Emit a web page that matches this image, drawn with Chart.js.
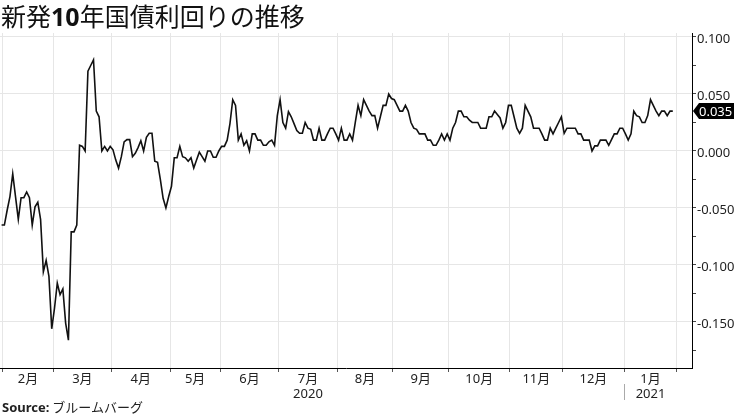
<!DOCTYPE html>
<html>
<head>
<meta charset="utf-8">
<script src="https://cdn.jsdelivr.net/npm/chart.js@4.4.0/dist/chart.umd.min.js"></script>
<style>
html, body { margin: 0; padding: 0; background: #fff; }
#wrap { position: relative; width: 740px; height: 416px; overflow: hidden; }
#chart { position: absolute; left: 0; top: 0; }
#title { position: absolute; left: 1px; top: 0px; font: 25px "Noto Sans CJK JP"; line-height: 30px; color: #111; white-space: nowrap; }
#title b { font-family: "Noto Sans", "Noto Sans CJK JP"; font-weight: 700; }
#source { position: absolute; left: 2px; top: 399px; font: 13px "Noto Sans CJK JP"; line-height: 16px; color: #222; white-space: nowrap; }
#source b { font-family: "Noto Sans"; font-weight: 700; }
</style>
</head>
<body>
<div id="wrap">
  <canvas id="chart" width="740" height="416"></canvas>
  <div id="title">新発<b>10</b>年国債利回りの推移</div>
  <div id="source"><b>Source:</b> ブルームバーグ</div>
</div>
<script>
// *** data for display ***
// trading days per month, starting with 2020/01/31
const leadDays = 1;
const monthLabels = ['2月', '3月', '4月', '5月', '6月', '7月', '8月', '9月', '10月', '11月', '12月', '1月'];
const yearLabels = ['', '', '', '', '', '2020', '', '', '', '', '', '2021'];
const monthDays = [18, 21, 21, 18, 21, 21, 20, 20, 22, 19, 22, 19];

// 10y JGB yield (%), one value per trading day
const yields = [
    -0.065,
    // Feb
    -0.065, -0.052, -0.040, -0.020, -0.040, -0.060, -0.041, -0.041, -0.036, -0.041,
    -0.065, -0.049, -0.045, -0.060, -0.106, -0.096, -0.110, -0.156,
    // Mar
    -0.138, -0.116, -0.126, -0.121, -0.151, -0.166, -0.071, -0.071, -0.065, 0.005,
    0.004, 0.000, 0.070, 0.075, 0.080, 0.035, 0.030, 0.000, 0.004, 0.000, 0.004,
    // Apr
    0.001, -0.008, -0.015, -0.005, 0.008, 0.010, 0.010, -0.005, -0.002, 0.003,
    0.009, 0.000, 0.012, 0.0155, 0.0155, -0.009, -0.010, -0.025, -0.0415, -0.050, -0.040,
    // May
    -0.031, -0.006, -0.006, 0.004, -0.005, -0.006, -0.009, -0.006, -0.015, -0.008,
    -0.001, -0.005, -0.009, 0.000, 0.000, -0.0055, -0.0055, 0.000,
    // Jun
    0.004, 0.004, 0.0095, 0.024, 0.045, 0.040, 0.0095, 0.015, 0.005, 0.009,
    0.000, 0.015, 0.015, 0.0095, 0.0095, 0.005, 0.005, 0.008, 0.0095, 0.005, 0.031,
    // Jul
    0.045, 0.025, 0.020, 0.0345, 0.030, 0.024, 0.018, 0.0155, 0.0155, 0.025,
    0.020, 0.019, 0.0095, 0.0095, 0.020, 0.0095, 0.0095, 0.015, 0.020, 0.020, 0.015,
    // Aug
    0.0095, 0.020, 0.0095, 0.0095, 0.015, 0.0095, 0.025, 0.040, 0.031, 0.045,
    0.040, 0.035, 0.031, 0.031, 0.020, 0.030, 0.040, 0.040, 0.050, 0.046,
    // Sep
    0.045, 0.040, 0.035, 0.035, 0.040, 0.035, 0.025, 0.020, 0.019, 0.015,
    0.015, 0.015, 0.0095, 0.0095, 0.005, 0.005, 0.0095, 0.015, 0.0095, 0.015,
    // Oct
    0.0095, 0.020, 0.025, 0.035, 0.035, 0.030, 0.030, 0.027, 0.025, 0.025,
    0.025, 0.020, 0.020, 0.020, 0.030, 0.030, 0.035, 0.032, 0.029, 0.020, 0.025, 0.040,
    // Nov
    0.040, 0.030, 0.020, 0.0155, 0.020, 0.040, 0.035, 0.030, 0.020, 0.020,
    0.020, 0.015, 0.0095, 0.0095, 0.020, 0.015, 0.020, 0.025, 0.030,
    // Dec
    0.0155, 0.020, 0.020, 0.020, 0.020, 0.015, 0.015, 0.0095, 0.0095, 0.0095,
    0.000, 0.0045, 0.0045, 0.0095, 0.0095, 0.0095, 0.005, 0.010, 0.015, 0.015, 0.020, 0.020,
    // Jan 2021
    0.015, 0.0095, 0.015, 0.035, 0.031, 0.030, 0.025, 0.025, 0.031, 0.045,
    0.040, 0.035, 0.031, 0.035, 0.035, 0.031, 0.035, 0.035
];

// *** x ticks: gridlines at month boundaries, labels mid-month ***
const xTicks = [];
let start = leadDays - 0.5;
xTicks.push({ value: start, label: '', edge: true });
monthLabels.forEach(function (m, i) {
    const end = start + monthDays[i];
    xTicks.push({ value: (start + end) / 2, label: yearLabels[i] ? [m, yearLabels[i]] : m, edge: false });
    xTicks.push({ value: end, label: '', edge: true });
    start = end;
});
const newYearEdge = xTicks[xTicks.length - 3].value;

// *** last value tag + year separator ***
const lastValueTag = {
    id: 'lastValueTag',
    afterDraw(chart) {
        const ctx = chart.ctx, area = chart.chartArea;
        const v = yields[yields.length - 1];
        const y = Math.round(chart.scales.y.getPixelForValue(v));
        const x0 = area.right + 1;
        ctx.save();
        ctx.fillStyle = '#000';
        ctx.beginPath();
        ctx.moveTo(x0, y);
        ctx.lineTo(x0 + 6, y - 8);
        ctx.lineTo(x0 + 41, y - 8);
        ctx.lineTo(x0 + 41, y + 8);
        ctx.lineTo(x0 + 6, y + 8);
        ctx.closePath();
        ctx.fill();
        ctx.fillStyle = '#fff';
        ctx.font = '13px "Noto Sans"';
        ctx.textBaseline = 'middle';
        ctx.fillText(v.toFixed(3), x0 + 6, y + 1);

        const xs = Math.round(chart.scales.x.getPixelForValue(newYearEdge)) + 0.5;
        ctx.strokeStyle = '#aaa';
        ctx.lineWidth = 1;
        ctx.beginPath();
        ctx.moveTo(xs, area.bottom + 16);
        ctx.lineTo(xs, area.bottom + 32);
        ctx.stroke();
        ctx.restore();
    }
};

const FONT = '"Noto Sans", "Noto Sans CJK JP", sans-serif';

new Chart(document.getElementById('chart'), {
    type: 'line',
    data: {
        datasets: [{
            data: yields.map(function (v, i) { return { x: i, y: v }; }),
            borderColor: '#111',
            borderWidth: 1.6,
            pointRadius: 0,
            tension: 0,
            fill: false
        }]
    },
    options: {
        responsive: false,
        devicePixelRatio: 1,
        animation: false,
        layout: { padding: { top: 33, left: 0, right: 0, bottom: 12 } },
        plugins: { legend: { display: false }, tooltip: { enabled: false } },
        scales: {
            x: {
                type: 'linear',
                bounds: 'data',
                min: -0.57,
                max: 247.9,
                afterBuildTicks: function (scale) {
                    scale.ticks = xTicks.map(function (t) { return { value: t.value }; });
                },
                afterFit: function (scale) { scale.height = 36; },
                grid: {
                    color: function (c) { return xTicks[c.index] && xTicks[c.index].edge ? '#e6e6e6' : 'rgba(0,0,0,0)'; },
                    tickColor: function (c) { return xTicks[c.index] && xTicks[c.index].edge ? '#555' : 'rgba(0,0,0,0)'; },
                    tickLength: 4
                },
                border: { display: true, color: '#000', width: 1 },
                ticks: {
                    autoSkip: false,
                    maxRotation: 0,
                    minRotation: 0,
                    padding: 0,
                    color: '#222',
                    font: { family: FONT, size: 13, lineHeight: 1.15 },
                    callback: function (value, index) { return xTicks[index] ? xTicks[index].label : ''; }
                }
            },
            y: {
                type: 'linear',
                position: 'right',
                min: -0.1904,
                max: 0.1035,
                afterBuildTicks: function (scale) {
                    const t = [];
                    for (let k = -175; k <= 100; k += 25) t.push({ value: k / 1000 });
                    scale.ticks = t;
                },
                afterFit: function (scale) { scale.width = 48; },
                grid: {
                    color: function (c) {
                        return c.tick && Math.round(c.tick.value * 1000) % 50 === 0 ? '#e6e6e6' : 'rgba(0,0,0,0)';
                    },
                    tickColor: '#444',
                    tickLength: 4
                },
                border: { display: true, color: '#000', width: 1 },
                ticks: {
                    padding: 1,
                    labelOffset: 2,
                    color: '#222',
                    font: { family: FONT, size: 13 },
                    callback: function (value) {
                        return Math.round(value * 1000) % 50 === 0 ? value.toFixed(3) : '';
                    }
                }
            }
        }
    },
    plugins: [lastValueTag]
});
</script>
</body>
</html>
